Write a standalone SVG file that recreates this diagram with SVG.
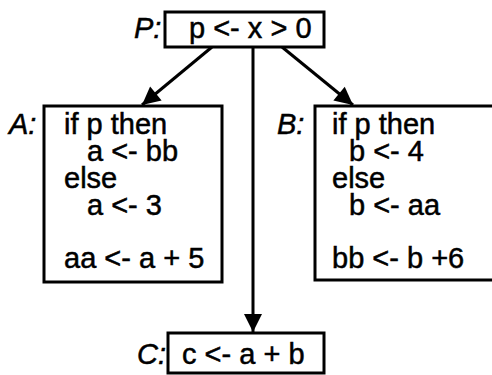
<svg xmlns="http://www.w3.org/2000/svg" width="492" height="375" viewBox="0 0 492 375">
<defs>
<style>
.box{fill:#fff;stroke:#000;stroke-width:3}
.t{font-family:"Liberation Sans",Arial,sans-serif;font-size:29px;fill:#000;stroke:#000;stroke-width:0.5}
.lbl{font-family:"Liberation Sans",Arial,sans-serif;font-size:29px;font-style:italic;fill:#000;stroke:#000;stroke-width:0.5}
.edge{stroke:#000;stroke-width:3;fill:none}
</style>
<marker id="ah" viewBox="0 0 10 10" refX="10" refY="5" markerWidth="7" markerHeight="6" markerUnits="strokeWidth" orient="auto">
<path d="M0,0 L10,5 L0,10 z" fill="#000"/>
</marker>
</defs>
<rect width="492" height="375" fill="#fff"/>
<g id="connectors">
<line class="edge" x1="212" y1="47" x2="142" y2="105" marker-end="url(#ah)"/>
<line class="edge" x1="253" y1="47" x2="253" y2="332" marker-end="url(#ah)"/>
<line class="edge" x1="282" y1="47" x2="353" y2="105" marker-end="url(#ah)"/>
</g>
<g id="P">
<text class="lbl" x="134" y="38">P:</text>
<rect class="box" x="165" y="12" width="159" height="35"/>
<text class="t" x="189" y="38">p &lt;- x &gt; 0</text>
</g>
<g id="A">
<text class="lbl" x="9" y="134">A:</text>
<rect class="box" x="44" y="106" width="178" height="176"/>
<text class="t" x="64" y="134">if p then</text>
<text class="t" x="87" y="161">a &lt;- bb</text>
<text class="t" x="64" y="188">else</text>
<text class="t" x="87" y="215">a &lt;- 3</text>
<text class="t" x="64" y="268">aa &lt;- a + 5</text>
</g>
<g id="B">
<text class="lbl" x="277" y="134">B:</text>
<rect class="box" x="315" y="106" width="190" height="174"/>
<text class="t" x="332" y="134">if p then</text>
<text class="t" x="349" y="161">b &lt;- 4</text>
<text class="t" x="332" y="188">else</text>
<text class="t" x="349" y="215">b &lt;- aa</text>
<text class="t" x="332" y="268">bb &lt;- b +6</text>
</g>
<g id="C">
<text class="lbl" x="137" y="364">C:</text>
<rect class="box" x="168" y="333" width="156" height="40"/>
<text class="t" x="182" y="364">c &lt;- a + b</text>
</g>
</svg>
